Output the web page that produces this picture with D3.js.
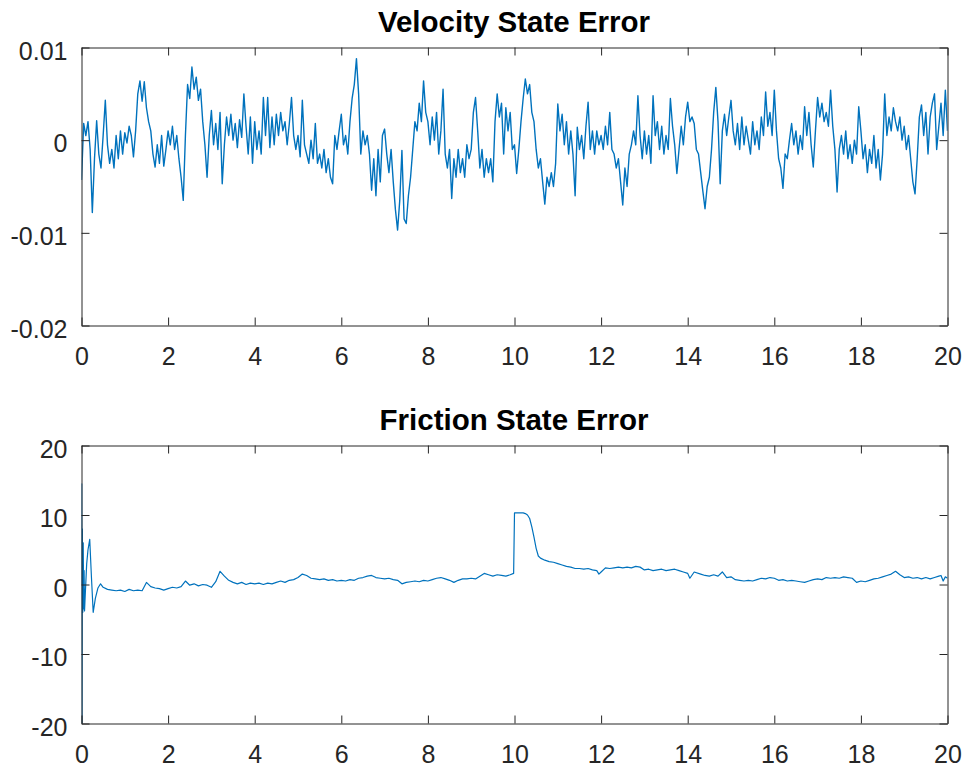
<!DOCTYPE html>
<html>
<head>
<meta charset="utf-8">
<script src="https://cdn.jsdelivr.net/npm/d3@7"></script>
<style>
  body { margin: 0; background: #fff; }
  svg text { font-family: "Liberation Sans", Arial, Helvetica, sans-serif; }
</style>
</head>
<body>
<div id="chart"></div>
<script>
// ---- data ----
const timeTicks = [0, 2, 4, 6, 8, 10, 12, 14, 16, 18, 20];

// velocity error, sampled every 0.05 s, in units of 1e-3
const velocityStep = 0.05;
const velocityErrMilli = [
  -4.3, 1.8, 0.5, 2.0, -1.0, -7.8, -2.0, 2.1, -1.5, -3.0, 0.5, 4.3, -0.5, -2.5, -1.0, -3.0, 0.5, -2.0, 1.0, -1.5,
  0.8, -0.3, 1.5, 0.5, -1.8, 1.0, 5.0, 6.4, 4.2, 6.3, 3.5, 2.0, 1.0, -1.5, -2.9, -0.5, -2.5, 0.5, -2.8, -1.0,
  1.0, -0.5, 1.5, -1.0, 0.5, -2.0, -4.0, -6.5, 0.5, 6.0, 4.5, 7.9, 5.5, 6.8, 4.3, 5.5, 2.0, -0.5, -4.0, 0.5,
  3.2, -0.5, 1.8, -1.0, 3.0, -4.7, -0.5, 2.5, 0.5, 2.8, 0.0, 1.8, -0.8, 2.2, 0.3, 5.0, 1.5, -1.5, 2.5, -2.5,
  2.0, -1.0, 1.0, -1.5, 4.6, 0.5, 4.6, -0.8, 2.5, -0.5, 2.8, 0.5, 3.0, 1.0, 2.0, -0.5, 1.8, 4.6, 0.5, -1.0,
  0.5, -1.8, 4.3, -0.5, -1.5, -2.5, 0.0, -2.0, 1.8, -2.5, -1.5, -3.0, -1.0, -3.5, -2.0, -4.0, -4.7, 0.5, -1.0, 1.0,
  2.8, -0.5, 0.5, -1.5, 2.0, 4.5, 6.0, 8.8, 5.0, -1.5, 1.0, -0.5, 0.5, -1.5, -5.4, -2.0, -6.0, -1.0, -4.5, 0.5,
  1.2, -1.5, -3.5, -1.0, -4.5, -7.5, -9.7, -6.5, -1.1, -8.5, -9.0, -6.0, -4.0, -1.0, 2.0, 1.0, 4.0, 2.0, 6.4, 3.0,
  2.0, -0.5, 2.5, 0.0, 3.0, -1.5, 1.0, 5.5, -1.5, -3.0, -1.0, -6.3, -2.0, -4.0, -1.0, -3.5, -2.0, -4.0, -0.5, -2.0,
  -1.0, 3.0, 4.6, 1.0, -3.0, -1.0, -4.0, -2.0, -3.5, -2.0, -4.5, 2.0, 5.0, 2.5, 4.0, -1.5, 3.5, 1.0, 3.0, -1.0,
  -0.5, -3.6, -1.0, 2.0, 4.5, 6.6, 5.0, 6.0, 3.0, 2.0, -1.0, -3.0, -2.0, -4.5, -6.9, -4.0, -5.0, -3.5, -5.0, -2.5,
  3.9, 1.0, 2.8, -0.5, 2.0, -1.5, 1.0, -1.5, -6.0, 1.4, -1.0, 0.5, -2.0, 1.5, 4.1, -1.0, 1.0, -1.5, 1.0, -0.5,
  0.5, -1.0, 1.5, -0.5, 3.0, -1.0, -1.5, -3.0, -2.0, -4.5, -7.0, -3.0, -5.0, -1.5, -0.5, 1.0, -0.5, 4.8, 0.5, -2.0,
  1.0, -1.5, 0.5, -2.5, 4.8, 0.5, 2.0, -1.0, 1.5, -1.5, 0.5, -1.0, 4.5, 1.5, -0.5, -3.6, -1.0, 1.5, -0.5, 2.5,
  4.1, 2.0, 2.5, 1.8, -1.0, -1.5, -3.5, -5.5, -7.4, -5.0, -4.0, -1.0, 3.0, 5.7, 2.0, -4.7, 1.0, 2.8, 0.5, 2.5,
  4.3, 1.0, -0.5, 1.8, -1.0, 2.5, -0.5, 1.5, 0.0, -1.5, 2.0, -0.5, 1.0, -1.0, 2.5, 0.5, 5.2, 1.5, 3.0, 0.5,
  5.4, 1.0, -2.0, -3.0, -5.2, -1.5, -2.0, 0.0, 1.8, -0.5, 1.0, -1.5, 0.5, -1.0, 3.6, 0.5, 3.0, -0.5, -2.9, 1.0,
  4.6, 2.5, 4.0, 2.0, 3.0, 1.5, 5.4, 1.5, -1.0, -5.6, -1.0, 0.5, -1.5, 1.0, -2.0, -0.5, -2.5, 0.0, -1.5, 3.6,
  1.0, -2.0, -0.5, -3.5, -1.0, -2.5, 0.5, -3.0, -1.0, -4.3, -1.5, 5.0, 0.5, 2.5, 1.0, 3.5, 2.0, 1.0, 2.5, 0.0,
  1.5, -1.0, 0.5, -2.0, -4.5, -5.8, -2.0, 2.5, 3.8, 0.5, 3.0, -1.5, 2.5, 4.0, 5.0, -1.0, 1.5, 4.0, 0.5, 5.4,
  1.0
];
const velocityTicks = [-0.02, -0.01, 0, 0.01];
const velocityTickLabels = ['-0.02', '-0.01', '0', '0.01'];

// friction error as [time, value]
const frictionErr = [
  [0, 0], [0.005, 14.5], [0.012, -20], [0.02, 8], [0.03, -4], [0.04, 6], [0.05, -3.5], [0.06, 2],
  [0.07, -3.8], [0.09, -1], [0.12, 3], [0.15, 5], [0.19, 6.5], [0.23, 1], [0.27, -4], [0.32, -2],
  [0.38, -0.5], [0.44, 0.1], [0.5, -0.4], [0.6, -0.7], [0.7, -0.8], [0.8, -0.9], [0.9, -0.8], [1.0, -1.0],
  [1.1, -0.7], [1.2, -0.9], [1.3, -0.8], [1.4, -0.9], [1.5, 0.3], [1.6, -0.3], [1.7, -0.5], [1.8, -0.6],
  [1.9, -0.8], [2.0, -0.6], [2.1, -0.4], [2.2, -0.5], [2.3, -0.3], [2.4, 0.5], [2.5, -0.1], [2.6, 0.1],
  [2.7, -0.2], [2.8, 0.0], [2.9, -0.1], [3.0, -0.4], [3.1, 0.4], [3.2, 1.9], [3.3, 1.2], [3.4, 0.6],
  [3.5, 0.3], [3.6, 0.1], [3.7, 0.3], [3.8, 0.0], [3.9, 0.2], [4.0, 0.1], [4.1, 0.2], [4.2, 0.0],
  [4.3, 0.2], [4.4, 0.1], [4.5, 0.3], [4.6, 0.5], [4.7, 0.3], [4.8, 0.6], [4.9, 0.7], [5.0, 1.0],
  [5.1, 1.5], [5.2, 1.3], [5.3, 0.9], [5.4, 0.8], [5.5, 0.7], [5.6, 0.8], [5.7, 0.6], [5.8, 0.7],
  [5.9, 0.5], [6.0, 0.6], [6.1, 0.5], [6.2, 0.7], [6.3, 0.6], [6.4, 0.9], [6.5, 1.0], [6.6, 1.2],
  [6.7, 1.3], [6.8, 1.0], [6.9, 0.9], [7.0, 0.8], [7.1, 0.9], [7.2, 0.7], [7.3, 0.6], [7.4, 0.1],
  [7.5, 0.3], [7.6, 0.4], [7.7, 0.5], [7.8, 0.4], [7.9, 0.6], [8.0, 0.5], [8.1, 0.7], [8.2, 0.9],
  [8.3, 1.0], [8.4, 0.8], [8.5, 0.6], [8.6, 0.3], [8.7, 0.6], [8.8, 0.8], [8.9, 0.8], [9.0, 0.9],
  [9.1, 0.8], [9.2, 1.2], [9.3, 1.6], [9.4, 1.4], [9.5, 1.2], [9.6, 1.4], [9.7, 1.3], [9.8, 1.2],
  [9.9, 1.4], [9.98, 1.6], [10.0, 10.3], [10.1, 10.3], [10.2, 10.3], [10.25, 10.2], [10.3, 10.0], [10.35, 9.5],
  [10.4, 8.3], [10.45, 6.8], [10.5, 5.2], [10.55, 4.1], [10.6, 3.8], [10.7, 3.5], [10.8, 3.3], [10.9, 3.2],
  [11.0, 3.0], [11.1, 2.8], [11.2, 2.6], [11.3, 2.5], [11.4, 2.3], [11.5, 2.3], [11.6, 2.2], [11.7, 2.3],
  [11.8, 2.1], [11.9, 2.0], [11.95, 1.5], [12.0, 1.8], [12.1, 2.4], [12.2, 2.3], [12.3, 2.4], [12.4, 2.5],
  [12.5, 2.4], [12.6, 2.5], [12.7, 2.4], [12.8, 2.6], [12.9, 2.5], [13.0, 2.1], [13.1, 2.2], [13.2, 2.0],
  [13.3, 2.1], [13.4, 2.2], [13.5, 2.0], [13.6, 2.1], [13.7, 2.2], [13.8, 2.0], [13.9, 1.8], [14.0, 1.6],
  [14.05, 0.9], [14.15, 1.8], [14.3, 1.5], [14.4, 1.3], [14.5, 1.2], [14.6, 1.4], [14.7, 1.2], [14.8, 1.8],
  [14.9, 1.0], [15.0, 1.1], [15.1, 0.7], [15.2, 0.6], [15.3, 0.5], [15.4, 0.6], [15.5, 0.5], [15.6, 0.7],
  [15.7, 0.9], [15.8, 0.8], [15.9, 1.0], [16.0, 0.9], [16.1, 0.6], [16.2, 0.7], [16.3, 0.5], [16.4, 0.6],
  [16.5, 0.5], [16.6, 0.4], [16.7, 0.3], [16.8, 0.5], [16.9, 0.7], [17.0, 0.8], [17.1, 0.7], [17.2, 1.0],
  [17.3, 0.9], [17.4, 1.0], [17.5, 0.9], [17.6, 1.1], [17.7, 1.0], [17.8, 0.9], [17.9, 0.3], [18.0, 0.5],
  [18.1, 0.4], [18.2, 0.6], [18.3, 0.8], [18.4, 0.9], [18.5, 1.1], [18.6, 1.3], [18.7, 1.5], [18.8, 1.9],
  [18.9, 1.4], [19.0, 1.0], [19.1, 1.1], [19.2, 0.9], [19.3, 1.0], [19.4, 0.8], [19.5, 1.0], [19.6, 0.8],
  [19.7, 1.0], [19.8, 1.2], [19.85, 1.3], [19.9, 0.5], [19.95, 1.1], [20.0, 0.9]
];
const frictionTicks = [-20, -10, 0, 10, 20];
const frictionTickLabels = ['-20', '-10', '0', '10', '20'];

// ---- drawing ----
const W = 964, H = 766;
const left = 81, right = 947;
const axisColor = '#262626';
const lineColor = '#0072BD';
const tickLen = 8;

const svg = d3.select('#chart').append('svg')
  .attr('width', W)
  .attr('height', H);

function styleAxis(sel) {
  sel.attr('font-size', 25).attr('font-family', null);
  sel.select('.domain').attr('stroke', axisColor);
  sel.selectAll('.tick line').attr('stroke', axisColor);
  sel.selectAll('.tick text').attr('fill', axisColor);
}

function drawPanel(cfg) {
  const x = d3.scaleLinear().domain([0, 20]).range([left + 0.5, right + 0.5]);
  const y = d3.scaleLinear().domain(cfg.yDomain).range([cfg.bottom + 0.5, cfg.top + 0.5]);
  const g = svg.append('g');

  g.append('clipPath').attr('id', cfg.id)
    .append('rect')
    .attr('x', x(0)).attr('y', y(cfg.yDomain[1]))
    .attr('width', x(20) - x(0)).attr('height', y(cfg.yDomain[0]) - y(cfg.yDomain[1]));

  const line = d3.line().x(d => x(d[0])).y(d => y(d[1]));
  g.append('path')
    .datum(cfg.data)
    .attr('clip-path', `url(#${cfg.id})`)
    .attr('fill', 'none')
    .attr('stroke', lineColor)
    .attr('stroke-width', cfg.lineWidth)
    .attr('stroke-linejoin', 'round')
    .attr('d', line);

  // bottom axis with labels
  g.append('g')
    .attr('transform', `translate(0,${y(cfg.yDomain[0])})`)
    .call(d3.axisBottom(x).tickValues(timeTicks).tickSize(-tickLen).tickSizeOuter(0).tickFormat(d => d))
    .call(styleAxis)
    .call(a => a.selectAll('.tick text').attr('y', 39).attr('dy', null));

  // top axis, ticks only
  g.append('g')
    .attr('transform', `translate(0,${y(cfg.yDomain[1])})`)
    .call(d3.axisTop(x).tickValues(timeTicks).tickSize(-tickLen).tickSizeOuter(0).tickFormat(''))
    .call(styleAxis);

  // left axis with labels
  g.append('g')
    .attr('transform', `translate(${x(0)},0)`)
    .call(d3.axisLeft(y).tickValues(cfg.ticks).tickSize(-tickLen).tickSizeOuter(0)
      .tickFormat((d, i) => cfg.tickLabels[i]))
    .call(styleAxis)
    .call(a => a.selectAll('.tick text').attr('x', -14).attr('dy', null).attr('y', 11.5));

  // right axis, ticks only
  g.append('g')
    .attr('transform', `translate(${x(20)},0)`)
    .call(d3.axisRight(y).tickValues(cfg.ticks).tickSize(-tickLen).tickSizeOuter(0).tickFormat(''))
    .call(styleAxis);

  g.append('text')
    .attr('x', (left + right) / 2)
    .attr('y', cfg.titleY)
    .attr('text-anchor', 'middle')
    .attr('font-size', 29.5)
    .attr('font-weight', 'bold')
    .attr('fill', '#000')
    .text(cfg.title);
}

drawPanel({
  id: 'clipVel',
  title: 'Velocity State Error',
  titleY: 32,
  top: 47, bottom: 325,
  yDomain: [-0.02, 0.01],
  ticks: velocityTicks,
  tickLabels: velocityTickLabels,
  lineWidth: 1.4,
  data: velocityErrMilli.map((v, i) => [i * velocityStep, v * 1e-3])
});

drawPanel({
  id: 'clipFric',
  title: 'Friction State Error',
  titleY: 430,
  top: 445, bottom: 723,
  yDomain: [-20, 20],
  ticks: frictionTicks,
  tickLabels: frictionTickLabels,
  lineWidth: 1.2,
  data: frictionErr
});
</script>
</body>
</html>
